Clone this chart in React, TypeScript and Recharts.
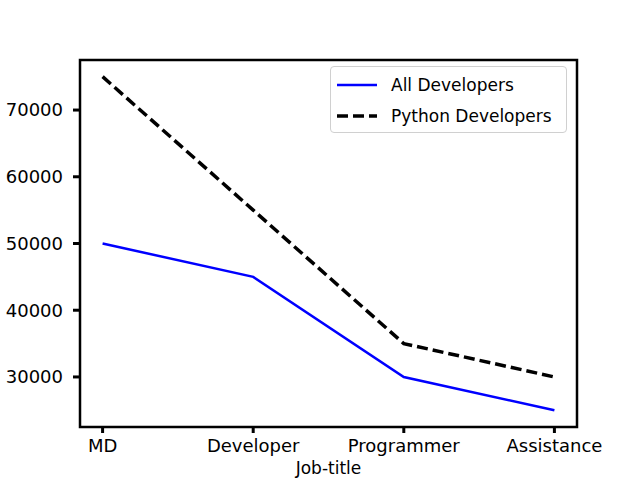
import React from 'react';
import { LineChart, Line, XAxis, YAxis, ReferenceArea } from 'recharts';

const jobTitles = ['MD', 'Developer', 'Programmer', 'Assistance'];
const allDevs = [50000, 45000, 30000, 25000];
const pythonDevs = [75000, 55000, 35000, 30000];
const yTicks = [30000, 40000, 50000, 60000, 70000];

const data = jobTitles.map((title, i) => ({
  x: i,
  title,
  all: allDevs[i],
  python: pythonDevs[i],
}));

const FONT = '"DejaVu Sans", sans-serif';

function LegendBox() {
  return (
    <div
      style={{
        position: 'absolute',
        left: 330,
        top: 66,
        width: 237,
        height: 67,
        boxSizing: 'border-box',
        border: '1.5px solid #d0d0d0',
        borderRadius: 4,
        background: 'white',
        padding: '2px 6px',
        fontFamily: FONT,
        fontSize: 17,
        color: '#000',
      }}
    >
      <div style={{ display: 'flex', alignItems: 'center', height: 31 }}>
        <svg width={42} height={10} style={{ marginRight: 12 }}>
          <line x1={0} y1={5} x2={40} y2={5} stroke="#0000ff" strokeWidth={2.5} />
        </svg>
        All Developers
      </div>
      <div style={{ display: 'flex', alignItems: 'center', height: 31 }}>
        <svg width={42} height={10} style={{ marginRight: 12 }}>
          <line x1={0} y1={5} x2={40} y2={5} stroke="#000" strokeWidth={3.5} strokeDasharray="11 5" />
        </svg>
        Python Developers
      </div>
    </div>
  );
}

export default function App() {
  return (
    <div style={{ position: 'absolute', left: 0, top: 0, width: 640, height: 480, background: 'white' }}>
      <LineChart
        width={640}
        height={480}
        data={data}
        margin={{ top: 60, right: 63, left: 10, bottom: 0 }}
      >
        <ReferenceArea
          x1={-0.15}
          x2={3.15}
          y1={22500}
          y2={77500}
          fill="none"
          stroke="#000"
          strokeWidth={2.5}
          ifOverflow="visible"
        />
        <XAxis
          dataKey="x"
          type="number"
          domain={[-0.15, 3.15]}
          ticks={[0, 1, 2, 3]}
          tickFormatter={(v: number) => jobTitles[v] ?? ''}
          height={53}
          axisLine={false}
          tickSize={6}
          tickMargin={6}
          tickLine={{ stroke: '#000', strokeWidth: 3 }}
          tick={{ fill: '#000', fontSize: 18, fontFamily: FONT }}
          label={{
            value: 'Job-title',
            position: 'insideBottom',
            offset: 6,
            fill: '#000',
            fontSize: 17,
            fontFamily: FONT,
          }}
        />
        <YAxis
          type="number"
          domain={[22500, 77500]}
          ticks={yTicks}
          width={70}
          axisLine={false}
          tickSize={7}
          tickMargin={10}
          tickLine={{ stroke: '#000', strokeWidth: 3 }}
          tick={{ fill: '#000', fontSize: 18, fontFamily: FONT }}
        />
        <Line
          type="linear"
          dataKey="all"
          name="All Developers"
          stroke="#0000ff"
          strokeWidth={2.5}
          dot={false}
          isAnimationActive={false}
        />
        <Line
          type="linear"
          dataKey="python"
          name="Python Developers"
          stroke="#000"
          strokeWidth={3.5}
          strokeDasharray="11 5"
          dot={false}
          isAnimationActive={false}
        />
      </LineChart>
      <LegendBox />
    </div>
  );
}
